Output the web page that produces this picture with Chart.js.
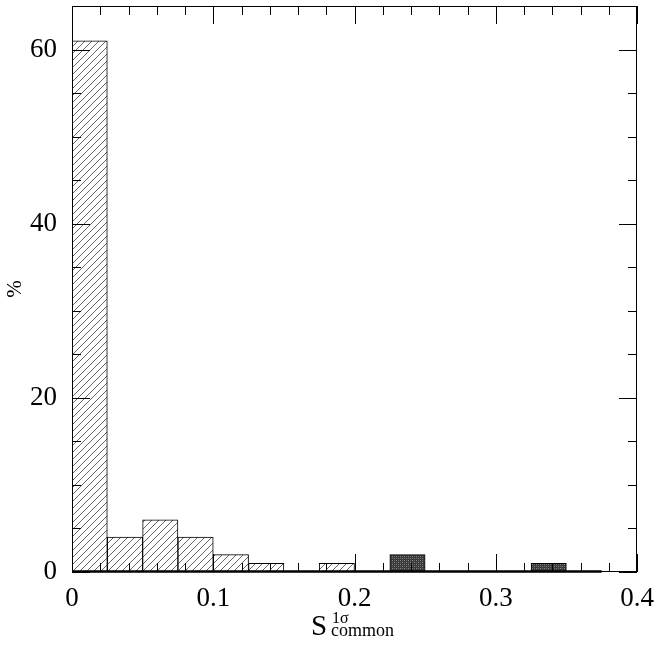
<!DOCTYPE html>
<html>
<head>
<meta charset="utf-8">
<script src="https://cdn.jsdelivr.net/npm/chart.js@4.4.1/dist/chart.umd.min.js"></script>
<style>
  html, body { margin: 0; padding: 0; background: #fff; }
  #wrap { width: 658px; height: 650px; position: relative; }
</style>
</head>
<body>
<div id="wrap"><canvas id="histChart"></canvas></div>
<script>
// bin centres (width 0.025) and percentages
const binCenters = [0.0125, 0.0375, 0.0625, 0.0875, 0.1125, 0.1375, 0.1625, 0.1875,
                    0.2125, 0.2375, 0.2625, 0.2875, 0.3125, 0.3375, 0.3625];
const hatchedPct = [61, 4, 6, 4, 2, 1, 0, 1, 0, 0, 0, 0, 0, 0, 0];
const darkPct    = [0, 0, 0, 0, 0, 0, 0, 0, 0, 2, 0, 0, 0, 1, 0];
const xMajorTicks = [0, 0.1, 0.2, 0.3, 0.4];
const yMajorTicks = [0, 20, 40, 60];
const xMinorStep = 0.02;
const yMinorStep = 5;

const serif = '"Liberation Serif", "DejaVu Serif", serif';

function hatchPattern() {
    const c = document.createElement('canvas');
    c.width = 7; c.height = 7;
    const g = c.getContext('2d');
    g.fillStyle = '#fff';
    g.fillRect(0, 0, 7, 7);
    g.strokeStyle = '#666';
    g.lineWidth = 1;
    g.beginPath();
    g.moveTo(-1, 8); g.lineTo(8, -1);
    g.stroke();
    return g.createPattern(c, 'repeat');
}

function darkPattern() {
    const c = document.createElement('canvas');
    c.width = 4; c.height = 4;
    const g = c.getContext('2d');
    g.fillStyle = '#3a3a3a';
    g.fillRect(0, 0, 4, 4);
    g.fillStyle = '#8a8a8a';
    g.fillRect(0, 0, 1, 1);
    g.fillRect(2, 2, 1, 1);
    g.fillStyle = '#666';
    g.fillRect(2, 0, 1, 1);
    g.fillRect(0, 2, 1, 1);
    return g.createPattern(c, 'repeat');
}

// frame, inward ticks on all four sides, baseline and axis titles
const framePlugin = {
    id: 'frame',
    afterDatasetsDraw(chart) {
        const ctx = chart.ctx;
        const a = chart.chartArea;
        const xs = chart.scales.x, ys = chart.scales.y;
        ctx.save();
        ctx.strokeStyle = '#000';

        // thick baseline under the histogram
        ctx.lineWidth = 2.5;
        ctx.beginPath();
        ctx.moveTo(xs.getPixelForValue(binCenters[0] - 0.0125), a.bottom - 0.5);
        ctx.lineTo(xs.getPixelForValue(binCenters[binCenters.length - 1] + 0.0125), a.bottom - 0.5);
        ctx.stroke();

        ctx.lineWidth = 1;
        ctx.strokeRect(a.left + 0.5, a.top + 0.5, a.right - a.left - 1, a.bottom - a.top - 1);

        ctx.beginPath();
        const nx = Math.round((xs.max - xs.min) / xMinorStep);
        for (let i = 0; i <= nx; i++) {
            const v = xs.min + i * xMinorStep;
            const major = xMajorTicks.some(m => Math.abs(m - v) < 1e-6);
            const len = major ? 18 : 9;
            const px = Math.round(xs.getPixelForValue(v)) + 0.5;
            ctx.moveTo(px, a.bottom); ctx.lineTo(px, a.bottom - len);
            ctx.moveTo(px, a.top); ctx.lineTo(px, a.top + len);
        }
        const ny = Math.floor((ys.max - ys.min) / yMinorStep);
        for (let i = 0; i <= ny; i++) {
            const v = ys.min + i * yMinorStep;
            const len = yMajorTicks.includes(v) ? 18 : 9;
            const py = Math.round(ys.getPixelForValue(v)) + 0.5;
            ctx.moveTo(a.left, py); ctx.lineTo(a.left + len, py);
            ctx.moveTo(a.right, py); ctx.lineTo(a.right - len, py);
        }
        ctx.stroke();

        // axis titles
        ctx.fillStyle = '#000';
        ctx.textBaseline = 'alphabetic';
        ctx.textAlign = 'left';
        ctx.font = '29px ' + serif;
        ctx.fillText('S', 311, 635);
        ctx.font = '16px ' + serif;
        ctx.fillText('1σ', 332, 623);
        ctx.font = '18px ' + serif;
        ctx.fillText('common', 331, 636);

        ctx.translate(21, 289);
        ctx.rotate(-Math.PI / 2);
        ctx.textAlign = 'center';
        ctx.font = '21px ' + serif;
        ctx.fillText('%', 0, 0);
        ctx.restore();
    }
};

const ctxHist = document.getElementById('histChart').getContext('2d');
const histChart = new Chart(ctxHist, {
    type: 'bar',
    data: {
        datasets: [
            {
                data: binCenters.map((x, i) => ({ x: x, y: hatchedPct[i] })),
                backgroundColor: hatchPattern(),
                borderColor: '#000',
                borderWidth: 1,
                borderSkipped: 'bottom',
                barPercentage: 1,
                categoryPercentage: 1,
                grouped: false
            },
            {
                data: binCenters.map((x, i) => ({ x: x, y: darkPct[i] })),
                backgroundColor: darkPattern(),
                borderColor: '#000',
                borderWidth: 1,
                borderSkipped: 'bottom',
                barPercentage: 1,
                categoryPercentage: 1,
                grouped: false
            }
        ]
    },
    options: {
        responsive: true,
        maintainAspectRatio: false,
        animation: false,
        layout: { padding: { top: 6, right: 21, left: 0, bottom: 0 } },
        plugins: { legend: { display: false }, tooltip: { enabled: false } },
        scales: {
            x: {
                type: 'linear',
                min: 0, max: 0.4,
                offset: false,
                grid: { display: false, drawTicks: false },
                border: { display: false },
                afterFit(s) {
                    s.height = 78;
                    s.paddingLeft = 0; s.paddingRight = 0;
                },
                afterBuildTicks(s) {
                    s.ticks = xMajorTicks.map(v => ({ value: v }));
                },
                ticks: {
                    autoSkip: false,
                    maxRotation: 0,
                    padding: 11,
                    color: '#000',
                    font: { family: serif, size: 27 },
                    callback: v => String(+v.toFixed(1))
                }
            },
            y: {
                min: 0, max: 65,
                grid: { display: false, drawTicks: false },
                border: { display: false },
                afterFit(s) {
                    s.width = 72;
                    s.paddingTop = 0; s.paddingBottom = 0;
                },
                afterBuildTicks(s) {
                    s.ticks = yMajorTicks.map(v => ({ value: v }));
                },
                ticks: {
                    autoSkip: false,
                    padding: 15,
                    color: '#000',
                    font: { family: serif, size: 27 },
                    callback: v => String(v)
                }
            }
        }
    },
    plugins: [framePlugin]
});
</script>
</body>
</html>
